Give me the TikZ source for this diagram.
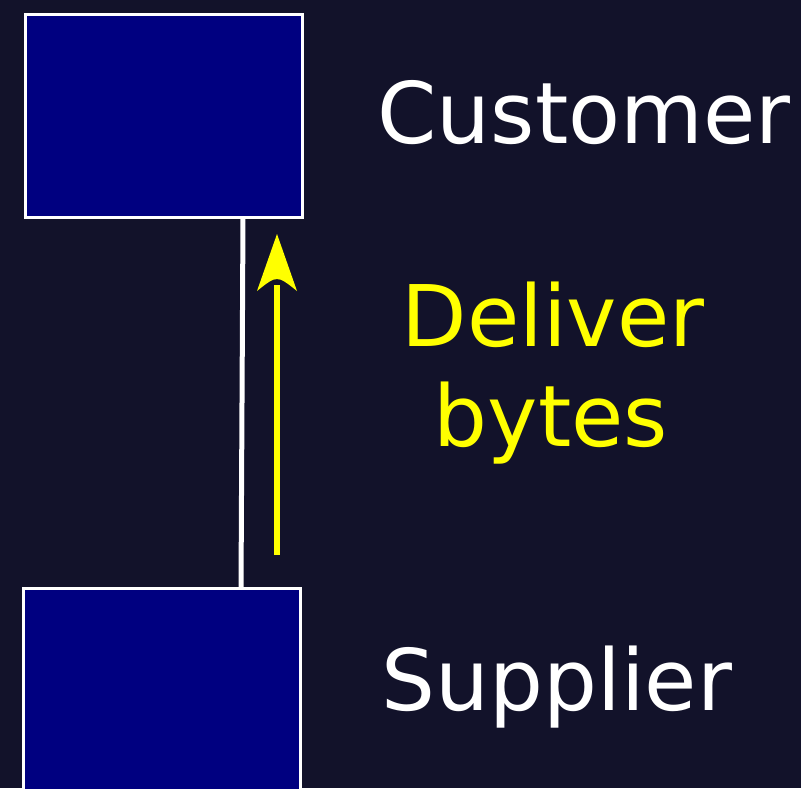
\documentclass[tikz,border=0pt]{standalone}
\usepackage{fontspec}
\setmainfont{DejaVu Sans}
\definecolor{bgc}{RGB}{18,18,42}
\definecolor{boxc}{RGB}{0,0,128}
\definecolor{yel}{RGB}{255,255,0}
\begin{document}
\begin{tikzpicture}[x=1pt,y=-1pt,
  box/.style={draw=white,fill=boxc,line width=3pt,inner sep=0pt,outer sep=0pt},
  lbl/.style={font=\fontsize{85}{100}\selectfont,anchor=base,inner sep=0pt},
  wline/.style={draw=white,line width=5pt},
  yline/.style={draw=yel,line width=5.5pt}]
\fill[bgc] (0,0) rectangle (801,788);
\useasboundingbox (0,0) rectangle (801,788);
\node[box,minimum width=277pt,minimum height=203pt] (cust) at (163.5,115.5) {};
\node[box,minimum width=277pt,minimum height=214pt] (supp) at (161.5,695) {};
\coordinate (c1) at (243,217);
\coordinate (c2) at (241,588);
\draw[wline] (c1) -- (c2);
\coordinate (a0) at (277,555);
\coordinate (a1) at (277,285);
\coordinate (tip) at (277,234);
\draw[yline] (a0) -- (a1);
\fill[yel] (tip) -- (297,291) .. controls (277,275) .. (257,291) -- cycle;
\node[lbl,text=white] (tcust) at (584,143) {Customer};
\node[lbl,text=yel,align=center] (tdel) at (553,346) {Deliver};
\node[lbl,text=yel] (tbytes) at (551,446) {bytes};
\node[lbl,text=white] (tsupp) at (557,710) {Supplier};
\end{tikzpicture}
\end{document}
